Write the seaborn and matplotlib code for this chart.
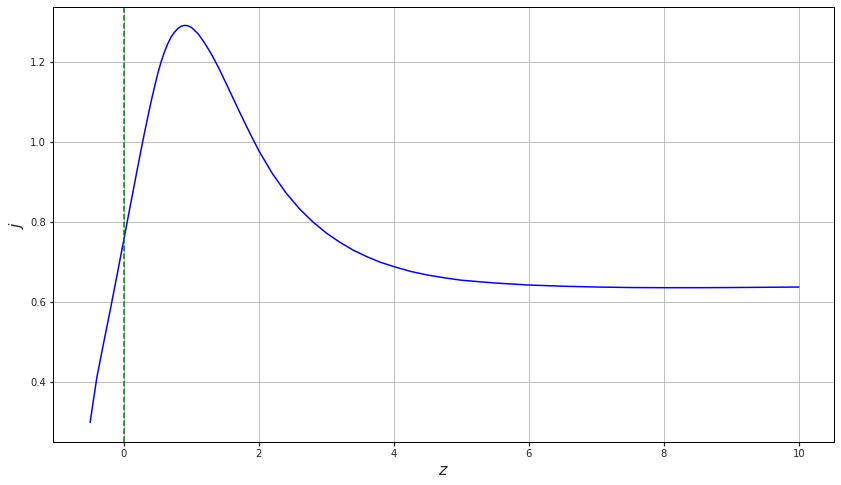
import numpy as np
import pandas as pd
import seaborn as sns
import matplotlib
matplotlib.use("Agg")
import matplotlib.pyplot as plt

# values
z = [-0.5, -0.45, -0.4, -0.3, -0.2, -0.1, 0.0, 0.1, 0.2, 0.3,
     0.4, 0.45, 0.5, 0.55, 0.6, 0.65, 0.7, 0.75, 0.8, 0.85,
     0.9, 0.95, 1.0, 1.1, 1.2, 1.3, 1.4, 1.5, 1.6, 1.7,
     1.8, 1.9, 2.0, 2.2, 2.4, 2.6, 2.8, 3.0, 3.2, 3.4,
     3.6, 3.8, 4.0, 4.25, 4.5, 4.75, 5.0, 5.5, 6.0, 6.5,
     7.0, 7.5, 8.0, 8.5, 9.0, 9.5, 10.0]
j = [0.298, 0.355, 0.411, 0.497, 0.581, 0.668, 0.756, 0.845, 0.933, 1.019,
     1.099, 1.135, 1.170, 1.200, 1.225, 1.246, 1.263, 1.275, 1.284, 1.290,
     1.292, 1.291, 1.287, 1.271, 1.247, 1.219, 1.187, 1.152, 1.116, 1.080,
     1.045, 1.011, 0.978, 0.921, 0.873, 0.833, 0.800, 0.772, 0.749, 0.729,
     0.713, 0.699, 0.688, 0.676, 0.667, 0.660, 0.654, 0.647, 0.642, 0.639,
     0.637, 0.6357, 0.6353, 0.6353, 0.6357, 0.6363, 0.637]

df = pd.DataFrame({'z': z, 'j': j})

sns.set_theme(style="ticks", rc={
    "axes.grid": True,
    "grid.color": "#b0b0b0",
    "grid.linewidth": 0.8,
    "axes.edgecolor": "black",
    "axes.linewidth": 1.0,
    "xtick.major.size": 3.5,
    "ytick.major.size": 3.5,
    "xtick.labelsize": 10,
    "ytick.labelsize": 10,
})
plt.rcParams['font.family'] = ['DejaVu Sans']

fig, ax = plt.subplots(figsize=(841 / 72, 485 / 72), dpi=72)
fig.subplots_adjust(left=53 / 841, right=834 / 841, top=1 - 7 / 485, bottom=1 - 442 / 485)

# jerk parameter curve + marker at z = 0
sns.lineplot(data=df, x='z', y='j', color='blue', linewidth=1.5, ax=ax)
ax.axvline(0, color='green', linestyle='--', linewidth=1.5)

ax.set_xlim(-1.05, 10.52)
ax.set_ylim(0.249, 1.338)
ax.set_xlabel('$z$', fontsize=16)
ax.set_ylabel('$j$', fontsize=16)

plt.savefig('out.png', dpi=72)
